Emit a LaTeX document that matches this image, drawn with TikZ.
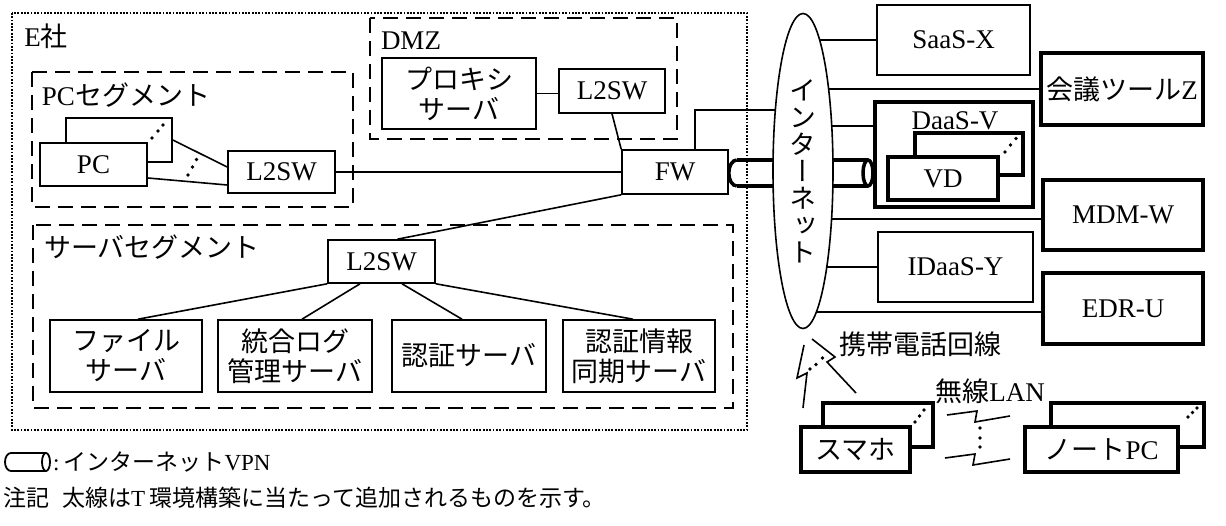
\documentclass[tikz,border=0pt]{standalone}
\usepackage{fontspec}
\setmainfont{Liberation Serif}
\newfontfamily\jp{Noto Sans CJK JP}
\newfontfamily\jpv{Noto Sans CJK JP}[RawFeature=+vert]
\usetikzlibrary{shapes.geometric,calc}
\pgfdeclarelayer{bg}
\pgfsetlayers{bg,main}
\begin{document}
\begin{tikzpicture}[x=1pt,y=-1pt,
  every node/.style={font=\fontsize{27}{30}\selectfont},
  jpn/.style={font=\fontsize{27}{30}\selectfont\jp},
  bx/.style 2 args={draw, fill=white, line width=1.6pt, inner sep=0pt, minimum width=#1pt, minimum height=#2pt},
  tbx/.style 2 args={draw, fill=white, line width=4pt, inner sep=0pt, minimum width=#1pt, minimum height=#2pt},
  wire/.style={line width=1.6pt},
  segline/.style={line width=1.8pt, dash pattern=on 15pt off 8pt},
  outerline/.style={line width=1.9pt, dash pattern=on 1.8pt off 1.5pt},
  vpn/.style={line width=3.5pt},
  lgvpn/.style={line width=1.8pt},
  legendtxt/.style={anchor=west, inner sep=0pt, font=\fontsize{23}{26}\selectfont}
]
\useasboundingbox (0,0) rectangle (1226,526);

% zones
\draw[outerline] (12,13) rectangle (747,430);
\draw[segline] (32,72) rectangle (353,207);
\draw[segline] (370,18) rectangle (677,139);
\draw[segline] (33,225) rectangle (733,408);

\node (lblE) at (46,36) {E{\jp 社}};
\node (lblPC) at (126,95) {PC{\jp セグメント}};
\node (lblDMZ) at (411,41) {DMZ};
\node[jpn] (lblSRV) at (152,247) {サーバセグメント};

% E社 boxes
\node[bx={106}{44}] (pcb) at (119,140) {};
\node[bx={107}{43}] (pcf) at (93.5,164.5) {PC};
\node[bx={107}{42}] (pcsw) at (281.5,172) {L2SW};
\node[bx={106}{44}] (fw) at (675,172) {FW};
\node[bx={154}{71}, jpn, align=center] (proxy) at (459,93.5) {プロキシ\\サーバ};
\node[bx={106}{44}] (dmzsw) at (612,91) {L2SW};
\node[bx={107}{43}] (srvsw) at (381.5,261.5) {L2SW};
\node[bx={152}{72}, jpn, align=center] (file) at (126,356) {ファイル\\サーバ};
\node[bx={154}{72}, jpn, align=center] (log) at (295,356) {統合ログ\\管理サーバ};
\node[bx={154}{72}, jpn] (auth) at (469,356) {認証サーバ};
\node[bx={152}{72}, jpn, align=center] (sync) at (639,356) {認証情報\\同期サーバ};

% multiplicity dots (PC)
\foreach \p in {(152,138),(158,131),(163,125),(188,175),(192.5,167),(196.5,159.5)}
  \fill \p circle[radius=1.8pt];

% internet side
\node[ellipse, draw, fill=white, line width=1.6pt, minimum width=60pt, minimum height=315pt, inner sep=0pt] (inet) at (803,171) {};
\node[font=\fontsize{27}{27}\selectfont\jpv, align=center, inner sep=0pt] (inettxt) at (803,171) {イ\\ン\\タ\\ー\\ネ\\ッ\\ト};

\node[bx={153}{70}] (saas) at (953.5,40) {SaaS-X};
\node[tbx={162}{72}] (conf) at (1122,89) {{\jp 会議ツール}Z};
\node[tbx={158}{105}] (daas) at (954,154.5) {};
\node (daaslbl) at (955,121) {DaaS-V};
\node[tbx={108}{42}] (vdb) at (969,154) {};
\node[tbx={110}{43}] (vdf) at (943,178.5) {VD};
\foreach \p in {(1005,152),(1010.5,145),(1016,138.5)} \fill \p circle[radius=1.8pt];
\node[tbx={160}{70}] (mdm) at (1123,215) {MDM-W};
\node[bx={155}{70}] (idaas) at (955.5,267) {IDaaS-Y};
\node[tbx={160}{71}] (edr) at (1123,308.5) {EDR-U};

\node[tbx={110}{44}] (smb) at (878,425) {};
\node[tbx={109}{45}, jpn] (smf) at (855.5,449.5) {スマホ};
\node[tbx={153}{44}] (npb) at (1127.5,425) {};
\node[tbx={153}{45}] (npf) at (1101.5,449.5) {{\jp ノート}PC};
\foreach \p in {(915,422),(919.5,416),(924,410),(1188,417),(1192.5,412.5),(1197,408)}
  \fill \p circle[radius=1.8pt];

\node[jpn] (mob) at (920,344) {携帯電話回線};
\node (wlan) at (990,391) {{\jp 無線}LAN};

% connectors
\draw[wire] (pcb.east) -- ([yshift=5pt]pcsw.west);
\draw[wire] ([yshift=-13.5pt]pcf.east) -- ([yshift=-13pt]pcsw.west);
\draw[wire] (pcsw.east) -- (fw.west);
\draw[wire] (proxy.east) -- (proxy.east -| dmzsw.west);
\draw[wire] (dmzsw.south) -- (fw.north west);
\draw[wire] (fw.south west) -- ([xshift=16pt]srvsw.north);
\draw[wire] (srvsw.south west) -- ([xshift=12pt]file.north);
\draw[wire] ([xshift=-21.5pt]srvsw.south) -- ([xshift=7pt]log.north);
\draw[wire] ([xshift=20.5pt]srvsw.south) -- ([xshift=-7pt]auth.north);
\draw[wire] (srvsw.south east) -- ([xshift=-6pt]sync.north);

\begin{pgfonlayer}{bg}
\draw[wire] ([xshift=20pt]fw.north) |- (inet.center |- 0,110);
\draw[wire] (saas.west) -- (saas.west -| inet.center);
\draw[wire] (conf.west) -- (conf.west -| inet.center);
\draw[wire] (daas.west |- 0,126) -- (inet.center |- 0,126);
\draw[wire] (mdm.west |- 0,219) -- (inet.center |- 0,219);
\draw[wire] (idaas.west) -- (idaas.west -| inet.center);
\draw[wire] (edr.west |- 0,312) -- (inet.center |- 0,312);
% VPN tunnel FW -- DaaS-V
\coordinate (vl) at ($(fw.east)+(8,1)$);
\coordinate (vr) at ($(daas.west |- vl)+(-5,0)$);
\draw[vpn] ($(vl)+(0,-13)$) -- ($(vr)+(0,-13)$);
\draw[vpn] ($(vl)+(0,13)$) -- ($(vr)+(0,13)$);
\draw[vpn] ($(vl)+(0,-13)$) arc[start angle=90, end angle=270, x radius=8pt, y radius=13pt];
\draw[vpn] (vr) ellipse[x radius=5pt, y radius=13pt];
\end{pgfonlayer}

% wireless symbols
\draw[wire] (947,415) -- (977,411) -- (975,422) -- (1010,416);
\draw[wire] (945,458) -- (975,454) -- (973,465) -- (1010,459);
\foreach \p in {(980,428),(980,438),(980,447)} \fill \p circle[radius=1.8pt];
\draw[wire] (812,339) -- (835,357) -- (827,362) -- (856,393);
\draw[wire] (804,345) -- (797,378) -- (807,373) -- (803,408);
\foreach \p in {(810,369),(816,364.5),(822.5,358)} \fill \p circle[radius=1.8pt];

% legend
\coordinate (lgl) at (11,462);
\coordinate (lgr) at (46,462);
\draw[lgvpn] ($(lgl)+(0,-9)$) -- ($(lgr)+(0,-9)$);
\draw[lgvpn] ($(lgl)+(0,9)$) -- ($(lgr)+(0,9)$);
\draw[lgvpn] ($(lgl)+(0,-9)$) arc[start angle=90, end angle=270, x radius=6pt, y radius=9pt];
\draw[lgvpn] (lgr) ellipse[x radius=4pt, y radius=9pt];
\node[legendtxt] (lgt) at (53,462) {:\hspace{4pt}{\jp インターネット}VPN};
\node[legendtxt] (note1) at (3,498) {{\jp 注記}};
\node[legendtxt] (note2) at (62,498) {{\jp 太線は}T\hspace{4pt}{\jp 環境構築に当たって追加されるものを示す。}};
\end{tikzpicture}
\end{document}
